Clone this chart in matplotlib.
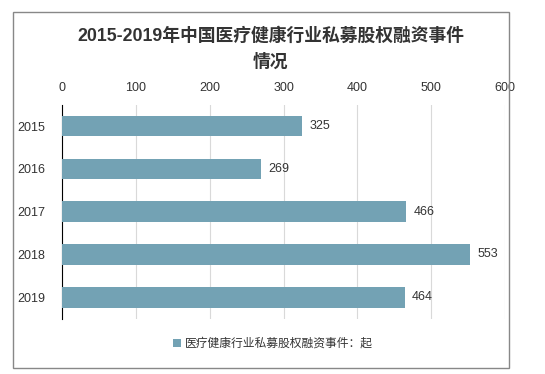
import matplotlib
matplotlib.use('Agg')
import matplotlib.pyplot as plt
from matplotlib.patches import Rectangle

plt.rcParams['font.family'] = ['Liberation Sans', 'Noto Sans CJK SC', 'DejaVu Sans']

years = ['2015', '2016', '2017', '2018', '2019']
counts = [325, 269, 466, 553, 464]
x_ticks = [0, 100, 200, 300, 400, 500, 600]
title = '2015-2019年中国医疗健康行业私募股权融资事件\n情况'
legend_label = '医疗健康行业私募股权融资事件：起'

bar_color = '#73A2B4'

fig = plt.figure(figsize=(5.45, 3.74), dpi=100)
ax = fig.add_axes([0.1138, 0.148, 0.8128, 0.572])

# Outer frame
fig.patches.append(Rectangle((13 / 545, 1 - 368 / 374), 496 / 545, 356 / 374,
                             transform=fig.transFigure, fill=False,
                             edgecolor='#888888', linewidth=1.0))

bars = ax.barh(range(len(years)), counts, height=0.48, color=bar_color,
               zorder=3, label=legend_label)
for i, v in enumerate(counts):
    ax.text(v + 10, i, str(v), va='center', ha='left', fontsize=9,
            color='#333333')

ax.set_xlim(0, 600)
ax.set_ylim(4.5, -0.5)
ax.set_yticks(range(len(years)))
ax.set_yticklabels(years)
ax.set_xticks(x_ticks)
ax.xaxis.tick_top()
ax.tick_params(axis='both', length=0, labelsize=9, colors='#333333')
ax.tick_params(axis='x', pad=8)
ax.tick_params(axis='y', pad=12)
ax.grid(axis='x', color='#D9D9D9', linewidth=0.8, zorder=0)
for s in ['top', 'right', 'bottom']:
    ax.spines[s].set_visible(False)
ax.spines['left'].set_color('#000000')
ax.spines['left'].set_linewidth(0.8)

fig.text(0.497, 1 - 49 / 374, title, ha='center', va='center',
         fontsize=12.8, fontweight='bold', color='#333333', linespacing=1.65)

fig.legend(handles=[bars], labels=[legend_label], loc='center',
           bbox_to_anchor=(0.5, 1 - 344 / 374), frameon=False, fontsize=8.5,
           handlelength=0.7, handleheight=0.7, handletextpad=0.3,
           labelcolor='#333333')

fig.savefig('out.png', dpi=100)
